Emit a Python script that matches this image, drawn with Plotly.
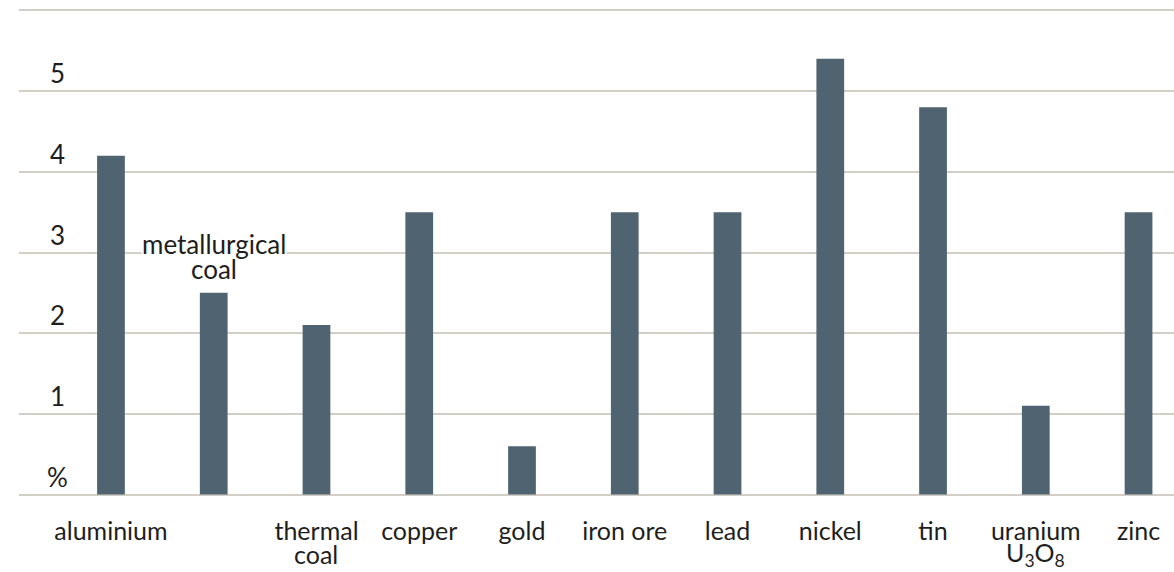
import plotly.graph_objects as go

categories = ["aluminium", "metallurgical coal", "thermal coal", "copper", "gold",
              "iron ore", "lead", "nickel", "tin", "uranium U3O8", "zinc"]
tick_labels = ["aluminium", "", "thermal", "copper", "gold", "iron ore",
               "lead", "nickel", "tin", "uranium", "zinc"]
second_lines = {2: "coal", 9: "U<sub>3</sub>O<sub>8</sub>"}
values = [4.2, 2.5, 2.1, 3.5, 0.6, 3.5, 3.5, 5.4, 4.8, 1.1, 3.5]
y_ticks = [0, 1, 2, 3, 4, 5, 6]
y_tick_text = ["%", "1", "2", "3", "4", "5", ""]

FONT = "Lato"
TEXT = "#1e1e1e"
BAR = "#4f6470"
GRID = "#d2cfc7"

x_idx = list(range(len(categories)))

fig = go.Figure()
fig.add_trace(go.Bar(x=x_idx, y=values, marker=dict(color=BAR, line=dict(width=0)),
                     width=0.27, hoverinfo="skip"))

# y-axis labels sitting on top of the gridlines
for v, t in zip(y_ticks, y_tick_text):
    if t:
        fig.add_annotation(x=0.033, xref="paper", y=v, yref="y", text=t,
                           showarrow=False, xanchor="center", yanchor="bottom",
                           yshift=0, font=dict(family=FONT, size=26, color=TEXT))

# second lines of two-line category labels (tight line spacing)
for i, t in second_lines.items():
    fig.add_annotation(x=i, y=0, yref="y", text=t, showarrow=False,
                       xanchor="center", yanchor="middle", yshift=-59,
                       font=dict(family=FONT, size=25, color=TEXT))

# metallurgical coal label above its bar (two tight lines)
fig.add_annotation(x=1, y=values[1], text="metallurgical", showarrow=False,
                   xanchor="center", yanchor="middle", yshift=49,
                   bgcolor="white", borderpad=0,
                   font=dict(family=FONT, size=26, color=TEXT))
fig.add_annotation(x=1, y=values[1], text="coal", showarrow=False,
                   xanchor="center", yanchor="middle", yshift=24,
                   font=dict(family=FONT, size=26, color=TEXT))

fig.update_layout(
    width=1174, height=572,
    margin=dict(l=19, r=0, t=8, b=75),
    paper_bgcolor="white", plot_bgcolor="white",
    showlegend=False,
    xaxis=dict(range=[-0.895, 10.345], tickmode="array", tickvals=x_idx,
               ticktext=tick_labels, showgrid=False, zeroline=False,
               showline=False, ticks="", ticklabelstandoff=17,
               tickfont=dict(family=FONT, size=25, color=TEXT)),
    yaxis=dict(range=[-0.03, 6.03], tickvals=y_ticks, showticklabels=False,
               showgrid=True, gridcolor=GRID, gridwidth=2,
               zeroline=False, showline=False, ticks=""),
)
fig.write_html("out.html", config={"displayModeBar": False},
               post_script="document.body.style.margin='0';")
